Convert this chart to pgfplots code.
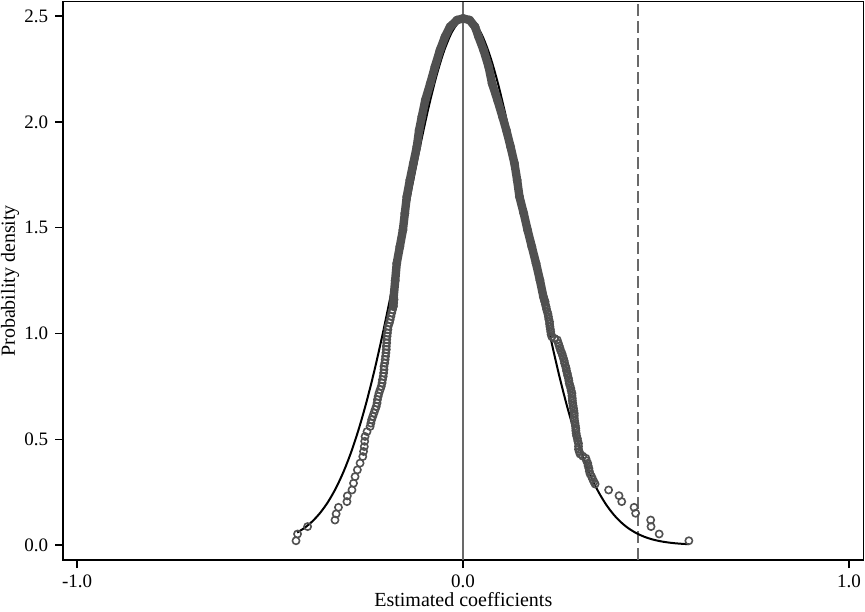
\documentclass[border=0pt]{standalone}
\usepackage{fontspec}
\setmainfont{Liberation Serif}
\usepackage{pgfplots}
\pgfplotsset{compat=1.18}
\usetikzlibrary{calc}
\definecolor{cgray}{RGB}{80,80,80}
\definecolor{lgray}{RGB}{105,105,105}

\pgfplotstableread{
x y
-0.43 0.0587
-0.41 0.0821
-0.39 0.1128
-0.37 0.1528
-0.35 0.2037
-0.33 0.2675
-0.31 0.3456
-0.29 0.4395
-0.27 0.5505
-0.25 0.6786
-0.23 0.8236
-0.21 0.9843
-0.19 1.1580
-0.17 1.3412
-0.15 1.5293
-0.13 1.7167
-0.11 1.8972
-0.09 2.0643
-0.07 2.2111
-0.05 2.3319
-0.03 2.4210
-0.01 2.4743
0.008 2.4900
0.03 2.4666
0.05 2.4057
0.07 2.3099
0.09 2.1836
0.11 2.0321
0.13 1.8618
0.15 1.6795
0.17 1.4914
0.19 1.3039
0.21 1.1222
0.23 0.9509
0.25 0.7933
0.27 0.6515
0.29 0.5269
0.31 0.4194
0.33 0.3287
0.35 0.2535
0.37 0.1926
0.39 0.1440
0.41 0.1060
0.43 0.0769
0.45 0.0549
0.47 0.0385
0.49 0.0266
0.51 0.0181
0.53 0.0122
0.55 0.0080
0.57 0.0052
0.585 0.0037
}\normaltab

\pgfplotstableread{
x y
-0.433 0.020
-0.429 0.052
-0.403 0.087
-0.332 0.118
-0.329 0.147
-0.323 0.178
-0.301 0.205
-0.300 0.232
-0.288 0.260
-0.284 0.292
-0.280 0.323
-0.274 0.355
-0.267 0.387
-0.260 0.418
-0.258 0.442
-0.256 0.465
-0.255 0.490
-0.254 0.513
-0.249 0.536
-0.241 0.560
-0.239 0.576
-0.237 0.592
-0.234 0.608
-0.231 0.624
-0.228 0.640
-0.225 0.655
-0.223 0.671
-0.222 0.687
-0.220 0.703
-0.218 0.718
-0.215 0.734
-0.212 0.750
-0.210 0.766
-0.209 0.781
-0.207 0.797
-0.206 0.813
-0.205 0.829
-0.205 0.844
-0.203 0.860
-0.202 0.876
-0.201 0.892
-0.200 0.908
-0.199 0.924
-0.199 0.939
-0.198 0.955
-0.198 0.971
-0.197 0.987
-0.196 1.002
-0.195 1.018
-0.194 1.034
-0.191 1.050
-0.189 1.065
-0.187 1.081
-0.185 1.097
-0.183 1.112
-0.181 1.128
-0.180 1.144
-0.179 1.160
0.212 1.150
0.213 1.138
0.215 1.126
0.216 1.115
0.218 1.103
0.220 1.091
0.221 1.079
0.222 1.067
0.224 1.055
0.224 1.044
0.225 1.032
0.226 1.020
0.227 1.008
0.228 0.996
0.230 0.984
0.237 0.976
0.244 0.969
0.247 0.953
0.249 0.941
0.251 0.930
0.253 0.918
0.256 0.906
0.258 0.894
0.260 0.882
0.262 0.870
0.263 0.859
0.265 0.847
0.267 0.835
0.268 0.823
0.270 0.811
0.271 0.800
0.273 0.788
0.274 0.776
0.275 0.764
0.277 0.753
0.279 0.741
0.280 0.729
0.282 0.717
0.282 0.705
0.283 0.693
0.283 0.682
0.284 0.670
0.285 0.658
0.286 0.646
0.287 0.634
0.288 0.622
0.288 0.611
0.288 0.599
0.289 0.587
0.290 0.575
0.291 0.563
0.292 0.551
0.292 0.540
0.293 0.528
0.294 0.516
0.296 0.504
0.297 0.492
0.299 0.480
0.299 0.466
0.299 0.452
0.301 0.441
0.303 0.430
0.310 0.420
0.318 0.410
0.320 0.398
0.323 0.386
0.324 0.374
0.326 0.362
0.327 0.349
0.329 0.336
0.333 0.323
0.336 0.310
0.339 0.299
0.342 0.288
0.377 0.260
0.404 0.233
0.411 0.205
0.443 0.178
0.447 0.150
0.486 0.118
0.487 0.087
0.508 0.052
0.585 0.020
}\tailtab

\pgfplotstableread{
x y
-0.181 1.128
-0.180 1.170
-0.176 1.250
-0.172 1.331
-0.164 1.410
-0.156 1.489
-0.151 1.568
-0.146 1.646
-0.138 1.725
-0.129 1.804
-0.120 1.882
-0.114 1.961
-0.107 2.024
-0.098 2.103
-0.085 2.182
-0.073 2.261
-0.060 2.339
-0.047 2.402
-0.034 2.449
-0.016 2.481
0.000 2.489
0.017 2.481
0.031 2.449
0.040 2.402
0.053 2.339
0.066 2.261
0.075 2.182
0.089 2.103
0.102 2.024
0.112 1.961
0.123 1.882
0.133 1.804
0.140 1.725
0.146 1.646
0.157 1.568
0.167 1.489
0.178 1.410
0.189 1.331
0.199 1.252
0.208 1.173
0.212 1.150
}\bandtab

\begin{document}
\begin{tikzpicture}
\begin{axis}[
  scale only axis, width=400pt, height=279.15pt,
  xmin=-1.036, xmax=1.037, ymin=-0.071, ymax=2.568,
  xtick={-1,0,1}, xticklabels={-1.0,0.0,1.0},
  ytick={0,0.5,1,1.5,2,2.5}, yticklabels={0.0,0.5,1.0,1.5,2.0,2.5},
  tick pos=left, tick align=outside, major tick length=4pt,
  tick style={black, line width=0.7pt},
  axis line style={black, line width=0.8pt},
  ticklabel style={font=\fontsize{9.5}{11}\selectfont},
  xlabel={Estimated coefficients}, ylabel={Probability density},
  xlabel style={font=\fontsize{10}{12}\selectfont, at={(axis description cs:0.5,-0.071)}, anchor=center},
  ylabel style={font=\fontsize{10}{12}\selectfont, at={(axis description cs:-0.0665,0.5)}, anchor=center},
  clip=true,
]
\addplot[lgray, line width=1pt] coordinates {(0,-0.071) (0,2.568)};
\addplot[lgray, line width=1pt, dash pattern=on 6pt off 2.5pt] coordinates {(0.454,-0.071) (0.454,2.568)};
\addplot[black, line width=1pt, smooth] table[x=x,y=y] {\normaltab};
\addplot[cgray, line width=4.2pt, line join=round, line cap=round] table[x=x,y=y] {\bandtab};
\addplot[only marks, mark=o, mark size=1.8pt, cgray, mark options={line width=0.8pt}] table[x=x,y=y] {\bandtab};
\addplot[only marks, mark=o, mark size=1.8pt, cgray, mark options={line width=0.8pt}] table[x=x,y=y] {\tailtab};
\coordinate (sw) at (rel axis cs:0,0);
\coordinate (ne) at (rel axis cs:1,1);
\end{axis}
\pgfresetboundingbox
\path[use as bounding box] ($(sw)+(-31.65pt,-25.5pt)$) rectangle ($(ne)+(0.85pt,0.85pt)$);
\end{tikzpicture}
\end{document}
